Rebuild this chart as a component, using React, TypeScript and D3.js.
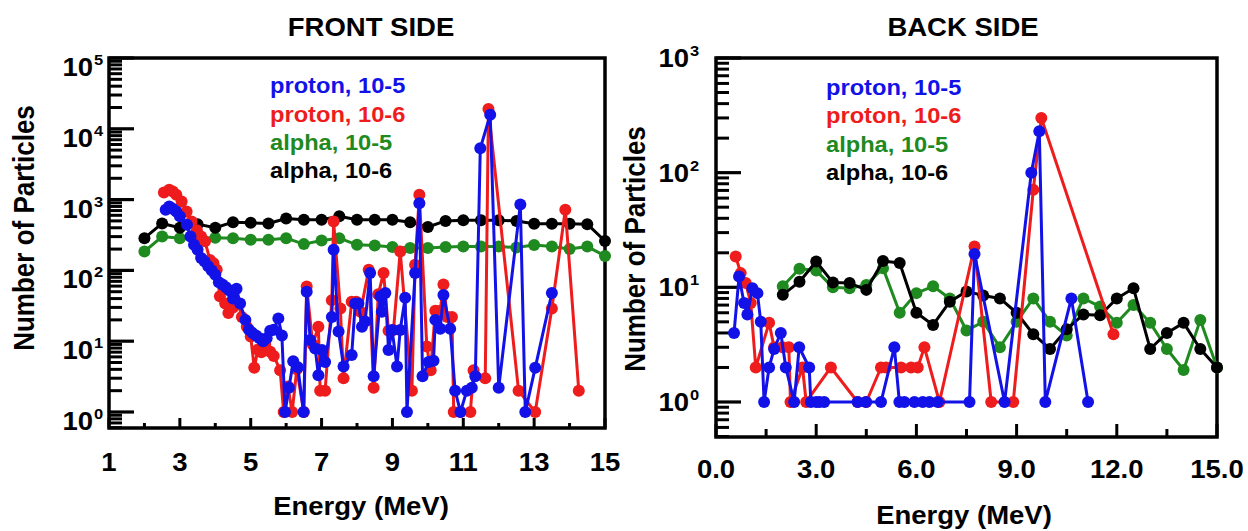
import React from "react";
import * as d3 from "d3";

type Pt = [number, number];

// ---------------- FRONT SIDE data ----------------
const frontProton105: Pt[] = [
  [2.6, 720], [2.7, 800], [2.8, 740], [2.9, 680], [3.0, 580], [3.2, 440], [3.3, 300], [3.4, 230],
  [3.5, 195], [3.6, 150], [3.7, 134], [3.8, 114], [3.9, 100], [4.0, 87], [4.1, 68], [4.2, 63],
  [4.3, 58], [4.4, 52], [4.5, 40], [4.6, 55], [4.7, 34], [4.85, 20], [4.95, 14.5], [5.05, 13],
  [5.15, 12], [5.25, 11], [5.35, 10], [5.45, 11], [5.55, 14], [5.65, 14.5], [5.78, 21], [5.88, 12],
  [5.97, 1], [6.08, 2.2], [6.2, 5.2], [6.33, 4.3], [6.49, 1], [6.58, 50], [6.68, 10.4], [6.82, 7.9],
  [6.91, 3.3], [7.01, 7.5], [7.1, 5.1], [7.29, 22], [7.34, 196], [7.48, 13.7], [7.62, 4.4], [7.85, 6.4],
  [7.95, 34], [8.04, 34], [8.14, 16], [8.23, 19], [8.37, 92], [8.47, 3.2], [8.66, 43], [8.7, 26],
  [8.8, 48], [8.89, 7.5], [8.99, 14.4], [9.13, 4.4], [9.22, 14.4], [9.36, 41], [9.41, 1], [9.64, 92],
  [9.76, 890], [9.85, 3.2], [10.02, 5.1], [10.16, 5.3], [10.21, 20], [10.35, 15], [10.44, 45],
  [10.63, 15], [10.77, 2.0], [10.92, 1], [11.1, 2.0], [11.24, 2.2], [11.34, 3.2], [11.48, 5300],
  [11.76, 15800], [12.0, 2.2], [12.61, 850], [12.75, 1], [13.03, 4.2], [13.5, 48],
];

const frontProton106: Pt[] = [
  [2.55, 1260], [2.7, 1380], [2.8, 1300], [2.9, 1170], [3.05, 940], [3.19, 680], [3.33, 490],
  [3.48, 370], [3.6, 300], [3.71, 257], [3.85, 140], [3.95, 126], [4.04, 102], [4.13, 43], [4.28, 34],
  [4.37, 25], [4.5, 30], [4.65, 34], [4.75, 22], [4.89, 16], [5.0, 11.6], [5.1, 4.2], [5.2, 7.6],
  [5.3, 7], [5.41, 8.9], [5.55, 7.1], [5.65, 6.2], [5.83, 3.9], [5.93, 1], [6.05, 2.3], [6.17, 1],
  [6.3, 4], [6.5, 1], [6.58, 59], [6.75, 9], [6.91, 16], [6.96, 2], [7.1, 2], [7.29, 38], [7.34, 490],
  [7.53, 29], [7.62, 3.0], [7.85, 36], [7.98, 36], [8.1, 26], [8.33, 102], [8.47, 2.2], [8.6, 46],
  [8.75, 92], [8.89, 14], [9.03, 14.4], [9.22, 185], [9.55, 2.0], [9.64, 120], [9.76, 1170],
  [9.97, 8.4], [10.08, 3.9], [10.21, 27], [10.35, 27], [10.44, 63], [10.55, 22], [10.68, 22],
  [10.73, 1], [10.92, 1], [11.2, 1], [11.29, 3.9], [11.62, 3.0], [11.71, 19000], [12.56, 2.0],
  [13.03, 1], [13.5, 29], [13.88, 720], [14.26, 2.0],
];

const alphaEnergies: number[] = [
  2.0, 2.5, 3.0, 3.5, 4.0, 4.5, 5.0, 5.5, 6.0, 6.5, 7.0, 7.5, 8.0, 8.5,
  9.0, 9.5, 10.0, 10.5, 11.0, 11.5, 12.0, 12.5, 13.0, 13.5, 14.0, 14.5, 15.0,
];
const frontAlpha105: number[] = [
  185, 300, 285, 285, 290, 285, 270, 270, 285, 235, 265, 285, 230, 225,
  214, 207, 207, 214, 218, 217, 217, 210, 228, 217, 200, 217, 160,
];
const frontAlpha106: number[] = [
  285, 460, 400, 450, 400, 480, 470, 460, 540, 520, 520, 580, 520, 520,
  520, 480, 410, 500, 510, 510, 510, 500, 455, 455, 455, 450, 260,
];

// ---------------- BACK SIDE data ----------------
const backProton105: Pt[] = [
  [0.54, 4.0], [0.69, 12.4], [0.84, 7.3], [0.94, 5.8], [1.09, 9.8], [1.24, 8.9], [1.34, 5.0],
  [1.44, 1], [1.59, 2.0], [1.74, 2.9], [1.94, 4.0], [2.09, 2.0], [2.34, 1], [2.49, 3.0], [2.79, 2.0],
  [2.84, 1], [3.0, 1], [3.1, 1], [3.24, 1], [4.24, 1], [4.49, 1], [4.94, 1], [5.34, 3.0], [5.49, 1],
  [5.64, 1], [5.94, 1], [6.19, 1], [6.39, 1], [6.64, 1], [7.59, 1], [7.74, 19.5], [8.64, 1],
  [9.44, 100], [9.68, 230], [9.86, 1], [10.64, 8], [11.14, 1],
];
const backProton106: Pt[] = [
  [0.59, 18.6], [0.74, 13.3], [0.89, 10.9], [1.04, 7.3], [1.19, 2.0], [1.59, 4.9], [1.74, 3.0],
  [1.99, 3.0], [2.18, 3.0], [2.23, 1], [2.59, 2.0], [2.7, 1], [3.44, 2.0], [4.24, 1], [4.5, 1],
  [4.94, 2.0], [5.09, 2.0], [5.54, 2.0], [5.84, 2.0], [6.04, 2.0], [6.24, 3.0], [6.69, 1],
  [7.74, 22.7], [8.24, 1], [8.9, 1], [9.5, 71], [9.74, 300], [11.9, 3.9],
];
const backAlpha105: number[] = [
  10.2, 14.5, 14, 10, 9.8, 10.5, 14.7, 6.0, 8.9, 10.2, 8.0, 4.2, 5.0, 3.0,
  5.0, 8.0, 5.0, 3.8, 8.0, 6.8, 4.9, 7.0, 4.9, 2.9, 1.9, 5.2, 2.0,
];
const backAlpha106: number[] = [
  8.6, 11.2, 16.8, 11, 10.9, 9.5, 17, 16.3, 6.0, 4.7, 7.5, 9.2, 8.5, 8.0,
  6.0, 3.9, 2.9, 4.3, 5.8, 5.7, 8.0, 9.8, 2.9, 4.0, 4.9, 2.9, 2.0,
];

// ---------------- axes / labels ----------------
const frontXMajor: number[] = [1, 3, 5, 7, 9, 11, 13, 15];
const frontXMinor: number[] = [2, 4, 6, 8, 10, 12, 14];
const backXMajor: number[] = [0, 3, 6, 9, 12, 15];
const backXMinor: number[] = [1.5, 4.5, 7.5, 10.5, 13.5];
const frontYExponents: number[] = [0, 1, 2, 3, 4, 5];
const backYExponents: number[] = [0, 1, 2, 3];
const legendLabels: string[] = ["proton, 10-5", "proton, 10-6", "alpha, 10-5", "alpha, 10-6"];
const seriesColors: string[] = ["#1212e8", "#ee1c1c", "#1f8a1f", "#000000"];

const FONT = "'Liberation Sans', Arial, Helvetica, sans-serif";
const SX = 1.1; // horizontal stretch of the original raster

function SText(props: {
  x: number; y: number; size: number; anchor?: string; fill?: string; rotate?: boolean; children: React.ReactNode;
}) {
  const { x, y, size, anchor = "start", fill = "#000", rotate = false, children } = props;
  return (
    <g transform={`translate(${x},${y}) scale(${SX},1)${rotate ? " rotate(-90)" : ""}`}>
      <text x={0} y={0} fontSize={size} fontWeight="bold" fontFamily={FONT} textAnchor={anchor as any} fill={fill}>
        {children}
      </text>
    </g>
  );
}

type PanelProps = {
  left: number; right: number; top: number; bottom: number;
  xDomain: [number, number]; yDomain: [number, number];
  xMajor: number[]; xMinor: number[]; xFormat: (v: number) => string;
  xMajorLen: number; xMinorLen: number; xLabelY: number;
  yExps: number[]; yLabelEnd: number; yLabelDy: number;
  title: string; titleX: number; titleY: number;
  xTitleX: number; xTitleY: number; yTitleX: number; yTitleY: number;
  legendX: number; legendY: number[];
  protons5: Pt[]; protons6: Pt[]; alpha5: number[]; alpha6: number[];
};

function Panel(p: PanelProps) {
  const x = d3.scaleLinear().domain(p.xDomain).range([p.left, p.right]);
  const y = d3.scaleLog().domain(p.yDomain).range([p.bottom, p.top]);
  const line = d3.line<Pt>().x((d) => x(d[0])).y((d) => y(d[1]));

  const a5: Pt[] = alphaEnergies.map((e, i) => [e, p.alpha5[i]]);
  const a6: Pt[] = alphaEnergies.map((e, i) => [e, p.alpha6[i]]);
  // draw order: green, black, red, blue
  const series: { data: Pt[]; color: string }[] = [
    { data: a5, color: seriesColors[2] },
    { data: a6, color: seriesColors[3] },
    { data: p.protons6, color: seriesColors[1] },
    { data: p.protons5, color: seriesColors[0] },
  ];

  const [ymin, ymax] = p.yDomain;
  const minorY: number[] = [];
  for (let e = Math.floor(Math.log10(ymin)); e < Math.log10(ymax); e++) {
    for (let k = 2; k <= 9; k++) {
      const v = k * Math.pow(10, e);
      if (v > ymin && v < ymax) minorY.push(v);
    }
  }

  const clipId = `clip-${p.left}`;
  return (
    <g>
      <defs>
        <clipPath id={clipId}>
          <rect x={p.left} y={p.top - 6} width={p.right - p.left + 8} height={p.bottom - p.top + 6} />
        </clipPath>
      </defs>
      {/* y ticks */}
      {minorY.map((v, i) => (
        <line key={"my" + i} x1={p.left} x2={p.left + 13} y1={y(v)} y2={y(v)} stroke="#000" strokeWidth={3} />
      ))}
      {p.yExps.map((e) => (
        <line key={"My" + e} x1={p.left} x2={p.left + 25} y1={y(Math.pow(10, e))} y2={y(Math.pow(10, e))} stroke="#000" strokeWidth={3.2} />
      ))}
      {/* x ticks */}
      {p.xMinor.map((v) => (
        <line key={"mx" + v} x1={x(v)} x2={x(v)} y1={p.bottom} y2={p.bottom - p.xMinorLen} stroke="#000" strokeWidth={3} />
      ))}
      {p.xMajor.map((v) => (
        <line key={"Mx" + v} x1={x(v)} x2={x(v)} y1={p.bottom} y2={p.bottom - p.xMajorLen} stroke="#000" strokeWidth={3} />
      ))}
      {/* frame */}
      <rect x={p.left} y={p.top} width={p.right - p.left} height={p.bottom - p.top} fill="none" stroke="#000" strokeWidth={3.5} />

      {/* series */}
      <g clipPath={`url(#${clipId})`}>
        {series.map((s, si) => (
          <g key={"s" + si}>
            <path d={line(s.data) || ""} fill="none" stroke={s.color} strokeWidth={3} strokeLinejoin="round" />
            {s.data.map((d, i) => (
              <circle key={i} cx={x(d[0])} cy={y(d[1])} r={6} fill={s.color} />
            ))}
          </g>
        ))}
      </g>

      {/* x tick labels */}
      {p.xMajor.map((v) => (
        <SText key={"xl" + v} x={x(v)} y={p.xLabelY} size={25} anchor="middle">{p.xFormat(v)}</SText>
      ))}
      {/* y tick labels */}
      {p.yExps.map((e) => {
        const yy = y(Math.pow(10, e)) + p.yLabelDy;
        return (
          <g key={"yl" + e}>
            <SText x={p.yLabelEnd} y={yy} size={25} anchor="end">10</SText>
            <SText x={p.yLabelEnd + 1} y={yy - 11} size={15} anchor="start">{String(e)}</SText>
          </g>
        );
      })}

      {/* titles */}
      <SText x={p.titleX} y={p.titleY} size={25} anchor="middle">{p.title}</SText>
      <SText x={p.xTitleX} y={p.xTitleY} size={25} anchor="middle">Energy (MeV)</SText>
      <SText x={p.yTitleX} y={p.yTitleY} size={26} anchor="middle" rotate>Number of Particles</SText>

      {/* legend */}
      {legendLabels.map((t, i) => (
        <SText key={"lg" + i} x={p.legendX} y={p.legendY[i]} size={21.5} fill={seriesColors[i]}>{t}</SText>
      ))}
    </g>
  );
}

export default function App() {
  return (
    <svg
      width={1248}
      height={531}
      viewBox="0 0 1248 531"
      style={{ position: "fixed", left: 0, top: 0, background: "#fff" }}
    >
      <rect x={0} y={0} width={1248} height={531} fill="#fff" />
      <Panel
        left={109} right={605} top={58} bottom={428}
        xDomain={[1, 15]} yDomain={[0.594, 1e5]}
        xMajor={frontXMajor} xMinor={frontXMinor} xFormat={(v) => String(v)}
        xMajorLen={10} xMinorLen={5} xLabelY={471}
        yExps={frontYExponents} yLabelEnd={93} yLabelDy={18}
        title="FRONT SIDE" titleX={371} titleY={36}
        xTitleX={361} xTitleY={515} yTitleX={34} yTitleY={228}
        legendX={270} legendY={[93, 122, 150, 178]}
        protons5={frontProton105} protons6={frontProton106}
        alpha5={frontAlpha105} alpha6={frontAlpha106}
      />
      <Panel
        left={716} right={1217} top={58} bottom={437}
        xDomain={[0, 15]} yDomain={[0.495, 1000]}
        xMajor={backXMajor} xMinor={backXMinor} xFormat={(v) => v.toFixed(1)}
        xMajorLen={13} xMinorLen={8} xLabelY={478}
        yExps={backYExponents} yLabelEnd={689} yLabelDy={9}
        title="BACK SIDE" titleX={963} titleY={36}
        xTitleX={964} xTitleY={524} yTitleX={645} yTitleY={249}
        legendX={826} legendY={[95, 123, 152, 180]}
        protons5={backProton105} protons6={backProton106}
        alpha5={backAlpha105} alpha6={backAlpha106}
      />
    </svg>
  );
}
